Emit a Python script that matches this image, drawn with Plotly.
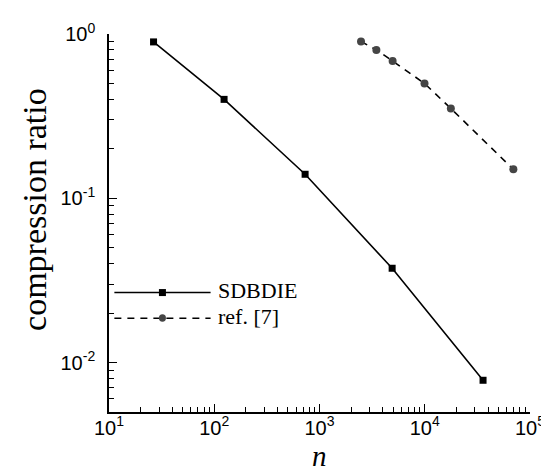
import plotly.graph_objects as go

# ---- data ----
sdbdie_n = [26.5, 124, 730, 4900, 35800]
sdbdie_ratio = [0.895, 0.40, 0.14, 0.0375, 0.0078]

ref7_n = [2480, 3470, 4950, 9950, 17700, 69500]
ref7_ratio = [0.90, 0.80, 0.685, 0.50, 0.352, 0.150]

x_tickvals = [1e1, 1e2, 1e3, 1e4, 1e5]
x_ticktext = ["10<sup>1</sup>", "10<sup>2</sup>", "10<sup>3</sup>", "10<sup>4</sup>", "10<sup>5</sup>"]
y_tickvals = [1e-2, 1e-1, 1e0]
y_ticktext = ["10<sup>-2</sup>", "10<sup>-1</sup>", "10<sup>0</sup>"]

series_names = ["SDBDIE", "ref. [7]"]

# ---- styling ----
SERIF = "Liberation Serif"
SANS = "Liberation Sans"
DASH = "7px,6px"
CIRCLE_COLOR = "#454545"

x_minor = [m * 10 ** e for e in range(1, 5) for m in range(2, 10)]
y_minor = [m * 10 ** e for e in range(-3, 0) for m in range(2, 10) if 0.005 <= m * 10 ** e < 1]

fig = go.Figure()
fig.add_trace(go.Scatter(
    x=sdbdie_n, y=sdbdie_ratio, mode="lines+markers", name=series_names[0],
    line=dict(color="black", width=1.6),
    marker=dict(symbol="square", size=7, color="black"),
    showlegend=False,
))
fig.add_trace(go.Scatter(
    x=ref7_n, y=ref7_ratio, mode="lines+markers", name=series_names[1],
    line=dict(color="black", width=1.6, dash=DASH),
    marker=dict(symbol="circle", size=8, color=CIRCLE_COLOR),
    showlegend=False,
))

L, R, T, B = 101, 17, 22, 69
W, H = 549, 473
pw, ph = W - L - R, H - T - B


def px_x(p):
    return (p - L) / pw


def px_y(p):
    return (H - B - p) / ph


# custom legend (long line samples like the original)
legend_rows = [
    (series_names[0], 283.3, None, "square", "black"),
    (series_names[1], 309.3, DASH, "circle", CIRCLE_COLOR),
]
shapes = []
annotations = []
for name, ypx, dash, sym, col in legend_rows:
    line = dict(color="black", width=1.6)
    if dash:
        line["dash"] = dash
    shapes.append(dict(type="line", xref="paper", yref="paper",
                       x0=px_x(106.5), x1=px_x(205), y0=px_y(ypx), y1=px_y(ypx), line=line))
    shapes.append(dict(type="rect" if sym == "square" else "circle",
                       xref="paper", yref="paper",
                       xsizemode="pixel", ysizemode="pixel",
                       xanchor=px_x(155.7), yanchor=px_y(ypx),
                       x0=-3.5, x1=3.5, y0=-3.5, y1=3.5 if sym == "square" else 4,
                       fillcolor=col, line=dict(width=0)))
    annotations.append(dict(text=name, xref="paper", yref="paper",
                            x=px_x(211), y=px_y(ypx - 2), xanchor="left", yanchor="middle",
                            showarrow=False, font=dict(family=SERIF, size=22, color="black")))

annotations.append(dict(text="compression ratio", xref="paper", yref="paper",
                        x=px_x(24), y=px_y(199), xanchor="center", yanchor="middle",
                        textangle=-90, showarrow=False,
                        font=dict(family=SERIF, size=34, color="black")))
annotations.append(dict(text="<i>n</i>", xref="paper", yref="paper",
                        x=0.5, y=px_y(466), xanchor="center", yanchor="bottom",
                        showarrow=False, borderpad=0,
                        font=dict(family=SERIF, size=29, color="black")))

axis_common = dict(
    showgrid=False, zeroline=False, showline=True, linecolor="black", linewidth=1.6,
    ticks="inside", ticklen=8, tickwidth=1.3, tickcolor="black",
    tickfont=dict(family=SANS, size=20, color="black"),
    mirror=False,
)

fig.update_layout(
    width=W, height=H,
    margin=dict(l=L, r=R, t=T, b=B, pad=0),
    paper_bgcolor="white", plot_bgcolor="white",
    xaxis=dict(type="log", range=[1, 5], tickvals=x_tickvals, ticktext=x_ticktext,
               minor=dict(tickvals=x_minor, ticks="inside", ticklen=5, tickwidth=1.1, tickcolor="black"),
               ticklabelstandoff=-3, **axis_common),
    yaxis=dict(type="log", range=[-2.30103, 0], tickvals=y_tickvals, ticktext=y_ticktext,
               minor=dict(tickvals=y_minor, ticks="inside", ticklen=5, tickwidth=1.1, tickcolor="black"),
               ticklabelstandoff=8, **axis_common),
    shapes=shapes,
    annotations=annotations,
)

fig.write_html("out.html")
